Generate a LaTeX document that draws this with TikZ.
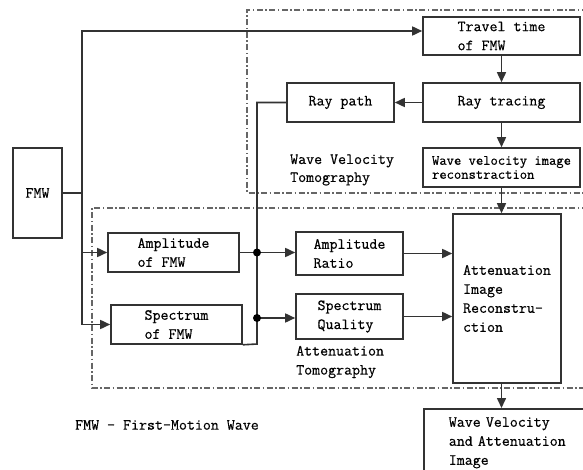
\documentclass[tikz,border=0pt]{standalone}
\usepackage{fontspec}
\newfontfamily\diagfont[FakeBold=0.5]{Latin Modern Mono}
\usetikzlibrary{arrows.meta}
\begin{document}
\begin{tikzpicture}[x=1pt,y=-1pt,
  font=\diagfont\fontsize{15.5}{19}\selectfont,
  box/.style={draw=black!80,line width=1.6pt,rectangle,inner sep=0pt,align=left},
  lbl/.style={anchor=west,inner sep=0pt,align=left},
  wire/.style={draw=black!80,line width=1.6pt},
  arr/.style={wire,-{Triangle[length=10pt,width=9pt]}},
  region/.style={draw=black!60,line width=1.1pt,dash pattern=on 6pt off 2.5pt on 1.5pt off 2.5pt},
  dot/.style={circle,fill=black,inner sep=0pt,minimum size=8pt}]
\useasboundingbox (0,0) rectangle (583,470);

% tomography regions
\draw[region] (600,10) -- (247,10) -- (247,193) -- (600,193);
\draw[region] (600,208) -- (92,208) -- (92,388) -- (600,388);

% blocks
\node[box,minimum width=49pt,minimum height=90pt] (fmw) at (37.5,193) {FMW};
\node[box,minimum width=157pt,minimum height=38pt] (travel) at (501.5,36) {Travel time\\of FMW};
\node[box,minimum width=157pt,minimum height=39pt] (raytr) at (501.5,102.5) {Ray tracing};
\node[box,minimum width=107pt,minimum height=39pt] (raypath) at (340.5,102.5) {Ray path};
\node[box,minimum width=157pt,minimum height=39pt,
      font=\diagfont\fontsize{14.2}{14}\selectfont] (wvrec) at (501.5,167.5) {Wave velocity image\\reconstraction};
\node[box,minimum width=131pt,minimum height=39pt] (amp) at (173.5,252.5) {Amplitude\\of FMW};
\node[box,minimum width=131pt,minimum height=39pt] (spec) at (176.5,324.5) {Spectrum\\of FMW};
\node[box,minimum width=107pt,minimum height=43pt] (ratio) at (349.5,253.5) {Amplitude\\Ratio};
\node[box,minimum width=107pt,minimum height=45pt] (qual) at (349.5,316.5) {Spectrum\\Quality};
\node[box,minimum width=108pt,minimum height=169pt] (atten) at (507,298.5) {Attenuation\\Image\\Reconstru-\\ction};
\node[box,anchor=north west,minimum height=68pt,text width=170pt,
      inner xsep=25pt,inner ysep=0pt] (final) at (423,408) {Wave Velocity\\and Attenuation\\Image};

% labels
\node[lbl,font=\diagfont\fontsize{15.5}{18}\selectfont] (wvtomo) at (290,170) {Wave Velocity\\Tomography};
\node[lbl] (attomo) at (296,362) {Attenuation\\Tomography};
\node[lbl] (legend) at (75,425) {FMW - First-Motion Wave};

% helper points
\coordinate (split) at (82,193);
\coordinate (topy) at (0,31);
\coordinate (busbot) at (257,344);
\coordinate (j1) at (257,252.5);
\coordinate (j2) at (257,318);

% connectors
\draw[wire] (fmw.east) -- (split);
\draw[arr] (split) |- (travel.west |- topy);
\draw[arr] (split) |- (amp.west);
\draw[arr] (split) |- (spec.west);

\draw[arr] (travel) -- (raytr);
\draw[arr] (raytr) -- (raypath);
\draw[arr] (raytr) -- (wvrec);
\draw[arr] (wvrec.south) -- (atten.north -| wvrec.south);
\draw[arr] (atten.south -| wvrec.south) -- (final.north -| wvrec.south);

\draw[wire] (raypath.west) -| (busbot) -- (spec.south east);
\draw[wire] (amp.east) -- (j1);
\draw[arr] (j1) -- (ratio.west |- j1);
\draw[arr] (j2) -- (qual.west |- j2);
\node[dot] at (j1) {};
\node[dot] at (j2) {};

\draw[arr] (ratio.east) -- (atten.west |- ratio.east);
\draw[arr] (qual.east) -- (atten.west |- qual.east);
\end{tikzpicture}
\end{document}
